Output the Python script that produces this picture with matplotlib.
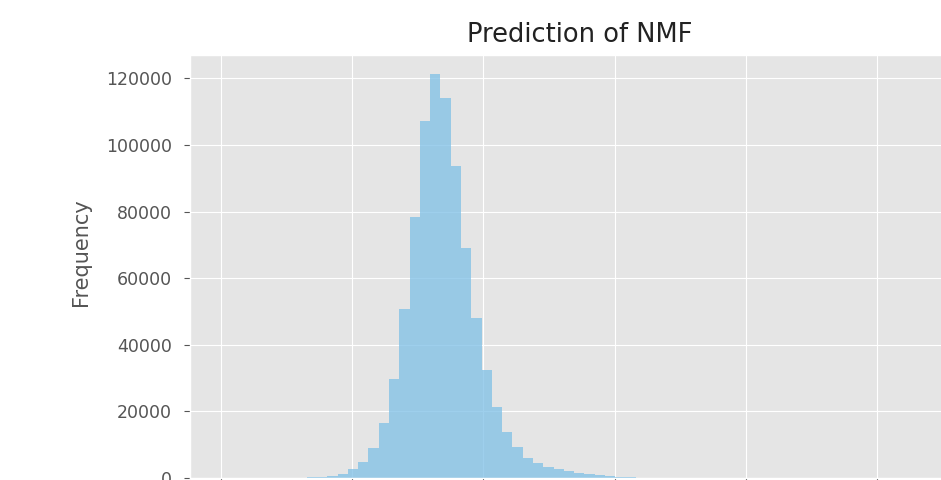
import numpy as np
import matplotlib.pyplot as plt

plt.style.use('ggplot')

# histogram of NMF predictions: bin edges and counts per bin
bin_start = 0.653
bin_width = 0.0784
counts = [200, 300, 600, 1200, 2800, 4900, 8900, 16400, 29800, 50700,
          78300, 107200, 121200, 114200, 93800, 69100, 48000, 32300, 21300,
          13900, 9400, 5900, 4400, 3400, 2600, 2100, 1600, 1200, 900, 600,
          400, 250]

edges = bin_start + bin_width * np.arange(len(counts) + 1)
centers = (edges[:-1] + edges[1:]) / 2

fig = plt.figure(figsize=(9.41, 4.8), dpi=100)
# axes run a little past the right and bottom edges of the canvas
ax = fig.add_axes([190 / 941, 2 / 480, 780 / 941, 423 / 480])

ax.hist(centers, bins=edges, weights=counts, color='#7ec0e6', alpha=0.75)
ax.set_xlim(-0.2363, (970 - 221) / 131.2)
ax.set_ylim(0, 127000)
ax.set_xticks([0, 1, 2, 3, 4, 5])
ax.set_yticks(np.arange(0, 120001, 20000))
ax.tick_params(axis='both', labelsize=12.5, length=4.5)
ax.tick_params(axis='y', pad=8.5)
ax.tick_params(axis='x', labelbottom=False)
ax.set_title('Prediction of NMF', color='#222222', fontsize=18.5, pad=9)
ax.set_ylabel('Frequency', fontsize=15)
ax.yaxis.set_label_coords(-0.127, 0.535)

fig.savefig('out.png', dpi=100)
